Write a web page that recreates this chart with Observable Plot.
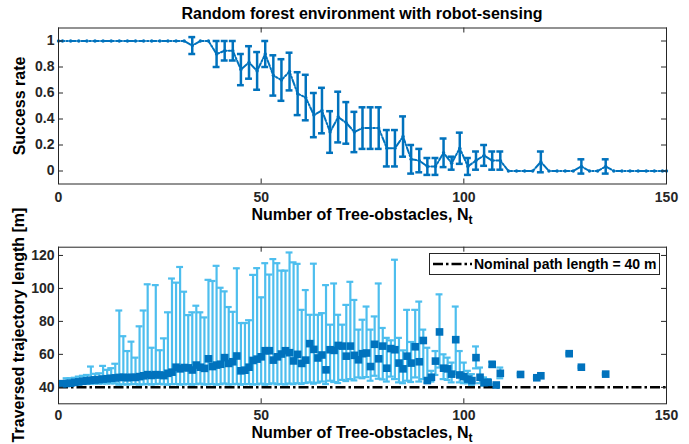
<!DOCTYPE html>
<html>
<head>
<meta charset="utf-8">
<script src="https://cdn.jsdelivr.net/npm/d3@7"></script>
<script src="https://cdn.jsdelivr.net/npm/@observablehq/plot@0.6"></script>
<style>
  body { margin: 0; background: #fff; }
  #fig { position: relative; width: 689px; height: 444px; font-family: "Liberation Sans", Arial, sans-serif; color: #000; overflow: hidden; }
  .abs { position: absolute; }
  .lab { font-weight: bold; font-size: 16px; line-height: 16px; white-space: nowrap; }
  .sub { font-size: 12px; position: relative; top: 4px; }
</style>
</head>
<body>
<div id="fig">
  <div id="top" class="abs" style="left:0;top:0"></div>
  <div id="bottom" class="abs" style="left:0;top:222px"></div>
  <div class="abs lab" style="left:58px;width:608px;top:6px;text-align:center">Random forest environment with robot-sensing</div>
  <div class="abs lab" style="left:58px;width:608px;top:207px;text-align:center">Number of Tree-obstacles, N<span class="sub">t</span></div>
  <div class="abs lab" style="left:58px;width:608px;top:425px;text-align:center">Number of Tree-obstacles, N<span class="sub">t</span></div>
  <div class="abs lab" style="left:20px;top:105.5px;transform:translate(-50%,-50%) rotate(-90deg)">Success rate</div>
  <div class="abs lab" style="left:19px;top:325px;transform:translate(-50%,-50%) rotate(-90deg)">Traversed trajectory length [m]</div>
  <div class="abs" style="left:429px;top:253px;width:229px;height:20px;border:1px solid #262626;background:#fff;display:flex;align-items:center;font-weight:bold;font-size:14px;white-space:nowrap">
    <svg width="44" height="20" style="display:block"><line x1="3" y1="10" x2="42" y2="10" stroke="#000" stroke-width="2.5" stroke-dasharray="10,3,2.5,3"/></svg>
    <span>Nominal path length = 40 m</span>
  </div>
</div>
<script>
// ---------- Top panel: success rate ----------
const topN = [0, 1, 3, 5, 7, 9, 11, 13, 15, 17, 19, 21, 23, 25, 27, 29, 31,
  33, 35, 37, 39, 41, 43, 45, 47, 49, 51, 53, 55, 57, 59, 61, 63, 65, 67, 69, 71, 73, 75, 77, 79,
  81, 83, 85, 87, 89, 91, 93, 95, 97, 99, 101, 103, 105, 107, 109,
  111, 113, 115, 117, 119, 121, 123, 125, 127, 129, 131, 133, 135, 137, 139, 141, 143, 145, 147, 149, 150];
const topRate = [1, 1, 1, 1, 1, 1, 1, 1, 1, 1, 1, 1, 1, 1, 1, 1, 1,
  0.965, 1, 1, 0.90, 0.925, 0.925, 0.78, 0.835, 0.77, 0.90, 0.735, 0.70, 0.765, 0.595, 0.565, 0.43, 0.465, 0.30, 0.415, 0.37, 0.30, 0.33, 0.33, 0.33,
  0.175, 0.175, 0.265, 0.09, 0.08, 0.035, 0.035, 0.14, 0.06, 0.175, 0.035, 0.08, 0.12, 0.08, 0.08,
  0, 0, 0, 0, 0.07, 0, 0, 0, 0, 0.035, 0, 0, 0.035, 0, 0, 0, 0, 0, 0, 0, 0];
const topErr = [0, 0, 0, 0, 0, 0, 0, 0, 0, 0, 0, 0, 0, 0, 0, 0, 0,
  0.065, 0, 0, 0.10, 0.075, 0.075, 0.12, 0.125, 0.145, 0.10, 0.155, 0.16, 0.145, 0.165, 0.175, 0.17, 0.175, 0.16, 0.195, 0.16, 0.155, 0.16, 0.16, 0.16,
  0.14, 0.14, 0.155, 0.11, 0.09, 0.065, 0.065, 0.11, 0.05, 0.12, 0.065, 0.07, 0.08, 0.07, 0.07,
  0, 0, 0, 0, 0.08, 0, 0, 0, 0, 0.055, 0, 0, 0.055, 0, 0, 0, 0, 0, 0, 0, 0];

// ---------- Bottom panel: trajectory length ----------
const lenN = [1, 2, 3, 4, 5, 6, 7, 8, 9, 10, 11, 12, 13, 14, 15, 16, 17, 18, 19, 20,
  21, 22, 23, 24, 25, 26, 27, 28, 29, 30, 31, 32, 33, 34, 35, 36, 37, 38, 39, 40,
  41, 42, 43, 44, 45, 46, 47, 48, 49, 50, 51, 52, 53, 54, 55, 56, 57, 58, 59, 60,
  61, 62, 63, 64, 65, 66, 67, 68, 69, 70, 71, 72, 73, 74, 75, 76, 77, 78, 79, 80,
  81, 82, 83, 84, 85, 86, 87, 88, 89, 90, 91, 92, 93, 94, 95, 96, 97, 98, 99, 100,
  101, 102, 103, 104, 105, 106, 107, 108, 109, 114, 118, 119, 126, 129, 135];
const lenMean = [42.2, 42.3, 42.5, 43, 43.3, 43.7, 44, 44.3, 44.5, 44.7, 45, 45.2, 45.5, 45.7, 46, 46.1, 45.8, 46.1, 46, 46.5,
  47, 47.7, 47.2, 47.7, 47.5, 47.1, 48.5, 49.2, 52.2, 51.2, 52, 51.8, 50.5, 53.5, 52.2, 51.5, 57.3, 52.6, 53.5, 54,
  58, 54.5, 55.5, 59, 50, 50.4, 52.2, 56.3, 57.1, 58.5, 62.2, 62.2, 56.5, 58.5, 60.2, 62.2, 61, 56, 60, 54.5,
  56.5, 66.5, 63, 57.8, 59.6, 50.6, 62.8, 62.4, 65.4, 65, 58.9, 65, 59.4, 56.7, 60.4, 60.8, 52.6, 66.1, 57.3, 65,
  51.6, 63.5, 62.8, 54.7, 51.2, 58.9, 54.7, 64.6, 55.5, 68.4, 44.1, 46.1, 55.9, 73.6, 51.6, 51.2, 48, 68.9, 47.5, 46.5,
  45, 44.1, 58, 46.1, 42.9, 43, 53.9, 41.4, 48.5, 47.8, 45.8, 47, 60.4, 52.2, 48];
const lenLo = [41.3, 41.5, 41.6, 41.8, 41.8, 42, 42, 42.1, 42.2, 42.2, 42.3, 42.3, 42.4, 42.4, 41.6, 41.8, 41.7, 41.9, 42, 41.6,
  41.8, 42, 41.7, 41.9, 42.1, 41.8, 41.6, 41.9, 42, 41.7, 41.8, 42, 41.6, 41.9, 42.2, 41.7, 41.8, 42, 41.6, 41.9,
  42.3, 41.7, 41.8, 42.1, 41.6, 41.9, 42, 41.7, 41.8, 42.2, 41.6, 41.9, 42.4, 41.8, 42, 41.7, 42.3, 41.9, 42.5, 42,
  42.6, 43, 42.2, 42.8, 43.5, 42, 44, 43.2, 42.6, 44.5, 43.8, 45, 44.2, 46, 45.5, 46.2, 44, 47, 45.2, 44.8,
  43.5, 46.5, 45, 43, 42.5, 44, 43.2, 46, 43.5, 45, 42.8, 43.5, 47.5, 52, 45, 44.5, 43, 48, 43, 42.5,
  42.5, 41.5, 51.5, 42.5, 41, 41, 52.5, 41, 45.5, 47.2, 45.2, 46.4, 59.8, 51.6, 47.4];
const lenHi = [43.5, 45.5, 45.5, 45.8, 46.5, 47, 47.5, 52.6, 48.2, 48.5, 53, 50.6, 51.6, 54.3, 86.6, 71, 62, 67.7, 58, 77,
  86.6, 102.5, 64, 102, 62.5, 69.7, 85.5, 106, 103.5, 113, 98, 83.8, 85.5, 89.5, 85.5, 82.4, 105.2, 104.5, 113.7, 100.4,
  98.2, 88.7, 85.8, 112.2, 79, 79, 80.7, 108.2, 112.3, 94.6, 115.3, 108.4, 117.8, 115.3, 110.8, 110.8, 121.8, 115.8, 114.9, 87,
  99, 84, 115, 84, 85, 102, 78, 103, 84, 78, 90, 104, 93, 75, 81, 89, 75, 83, 103, 76,
  70, 68.5, 117.4, 70, 62.4, 87, 67.5, 87, 92, 75, 64, 50, 62, 96.4, 60, 58, 55, 89, 62, 55,
  50, 48, 64.8, 52, 46, 45, 55.5, 42, 52, 48.6, 46.5, 47.6, 61, 52.8, 48.6];
const nominalLength = [40];

// ---------- Axes ticks ----------
const xTicks = [0, 50, 100, 150];
const rateTicks = [0, 0.2, 0.4, 0.6, 0.8, 1];
const lenTicks = [40, 60, 80, 100, 120];

const dark = "#0072BD", light = "#4DBEEE", axisColor = "#262626";
const W = 689, H = 222;
const font = {fontFamily: "'Liberation Sans', Arial, sans-serif", fontSize: "14px", fontWeight: "bold", color: axisColor, background: "transparent", overflow: "visible"};

const topData = topN.map((n, i) => ({n, rate: topRate[i], lo: topRate[i] - topErr[i], hi: topRate[i] + topErr[i], err: topErr[i]}));
const topBars = topData.filter(d => d.err > 0);
const lenData = lenN.map((n, i) => ({n, mean: lenMean[i], lo: lenLo[i], hi: lenHi[i]}));

function frameTicks(mt, mb, ml, mr, yTicks) {
  const ih = H - mt - mb, iw = W - ml - mr;
  return [
    Plot.ruleX(xTicks, {x: d => d, insetTop: ih - 5, stroke: axisColor, strokeWidth: 1}),
    Plot.ruleX(xTicks, {x: d => d, insetBottom: ih - 5, stroke: axisColor, strokeWidth: 1}),
    Plot.ruleY(yTicks, {y: d => d, insetRight: iw - 5, stroke: axisColor, strokeWidth: 1}),
    Plot.ruleY(yTicks, {y: d => d, insetLeft: iw - 5, stroke: axisColor, strokeWidth: 1}),
    Plot.frame({stroke: axisColor, strokeWidth: 1})
  ];
}

const capHalf = 0.85;
const topPlot = Plot.plot({
  width: W, height: H,
  marginLeft: 58, marginRight: 23, marginTop: 27.5, marginBottom: 38.5,
  style: font,
  x: {domain: [0, 150], ticks: xTicks, tickSize: 0, tickPadding: 8, tickFormat: d => String(d), label: null},
  y: {domain: [-0.1, 1.1], ticks: rateTicks, tickSize: 0, tickPadding: 4, tickFormat: d => String(d), label: null},
  marks: [
    Plot.line(topData, {x: "n", y: "rate", stroke: dark, strokeWidth: 2, strokeDasharray: "6,2,1.5,2"}),
    Plot.ruleX(topBars, {x: "n", y1: "lo", y2: "hi", stroke: dark, strokeWidth: 2.5}),
    Plot.ruleY(topBars, {y: "hi", x1: d => d.n - capHalf, x2: d => d.n + capHalf, stroke: dark, strokeWidth: 2.5}),
    Plot.ruleY(topBars, {y: "lo", x1: d => d.n - capHalf, x2: d => d.n + capHalf, stroke: dark, strokeWidth: 2.5}),
    Plot.dot(topData, {x: "n", y: "rate", r: 1.7, fill: dark}),
    ...frameTicks(27.5, 38.5, 58, 23, rateTicks)
  ]
});
document.getElementById("top").appendChild(topPlot);

const botPlot = Plot.plot({
  width: W, height: H,
  marginLeft: 58, marginRight: 23, marginTop: 24.7, marginBottom: 40.7,
  style: font,
  x: {domain: [0, 150], ticks: xTicks, tickSize: 0, tickPadding: 6, tickFormat: d => String(d), label: null},
  y: {domain: [30, 125], ticks: lenTicks, tickSize: 0, tickPadding: 4, tickFormat: d => String(d), label: null},
  marks: [
    Plot.ruleX(lenData, {x: "n", y1: "lo", y2: "hi", stroke: light, strokeWidth: 2.2}),
    Plot.ruleY(lenData, {y: "hi", x1: d => d.n - capHalf, x2: d => d.n + capHalf, stroke: light, strokeWidth: 2.2}),
    Plot.ruleY(lenData, {y: "lo", x1: d => d.n - capHalf, x2: d => d.n + capHalf, stroke: light, strokeWidth: 2.2}),
    Plot.ruleY(nominalLength, {y: d => d, stroke: "#000", strokeWidth: 2.5, strokeDasharray: "10,3,2.5,3"}),
    Plot.dot(lenData, {x: "n", y: "mean", symbol: "square", r: 4.3, fill: dark}),
    ...frameTicks(24.7, 40.7, 58, 23, lenTicks)
  ]
});
document.getElementById("bottom").appendChild(botPlot);
</script>
</body>
</html>
